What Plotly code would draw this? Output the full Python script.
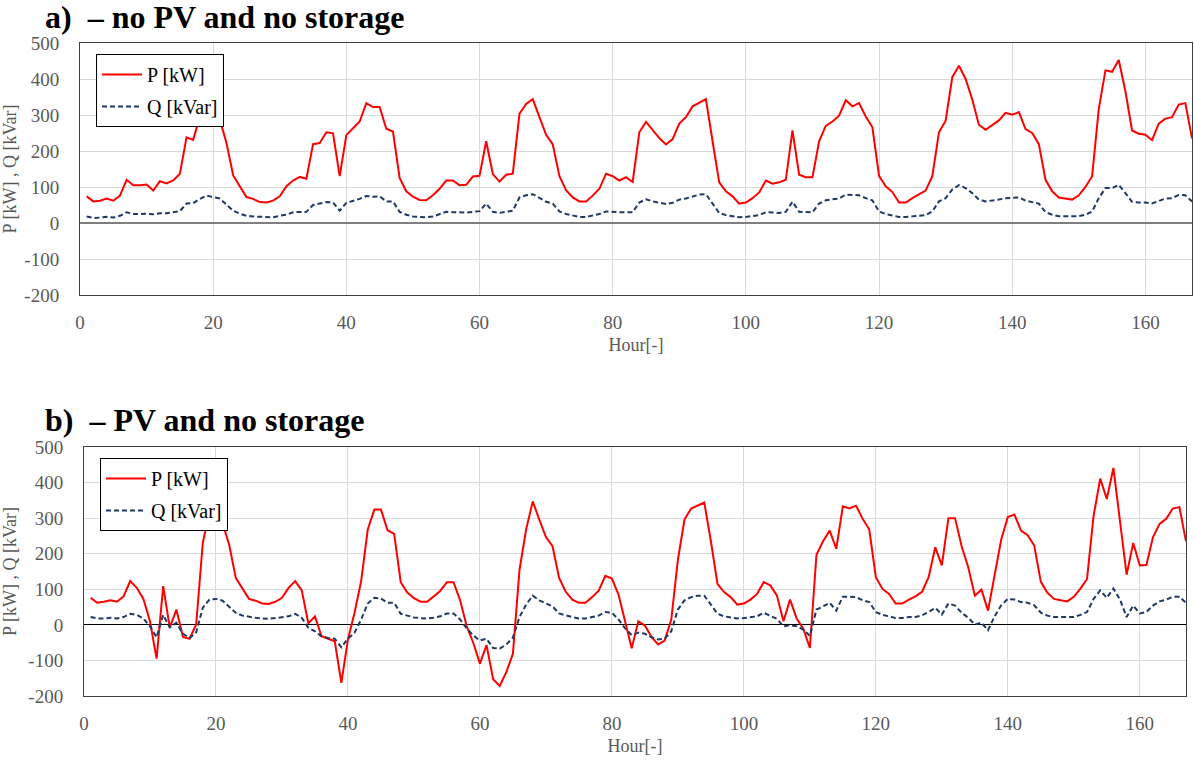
import plotly.graph_objects as go

hours = list(range(1, 168))

P_a = [74, 60, 62, 68, 62, 76, 120, 105, 105, 107,
       90, 116, 110, 118, 137, 238, 231, 296, 335, 330,
       287, 222, 132, 102, 72, 67, 58, 57, 62, 74,
       102, 118, 128, 123, 219, 222, 252, 249, 130, 244,
       264, 282, 333, 322, 322, 262, 254, 125, 88, 73,
       64, 63, 77, 95, 118, 118, 105, 106, 129, 131,
       227, 136, 115, 134, 137, 304, 331, 344, 294, 245,
       218, 130, 91, 71, 60, 60, 76, 95, 137, 130,
       118, 127, 114, 252, 281, 257, 236, 218, 233, 276,
       294, 324, 335, 344, 227, 113, 88, 74, 54, 57,
       69, 85, 118, 109, 113, 120, 257, 134, 127, 127,
       227, 270, 282, 298, 341, 324, 333, 296, 266, 131,
       102, 86, 57, 57, 69, 79, 90, 130, 252, 284,
       405, 437, 400, 343, 273, 259, 271, 285, 306, 301,
       308, 261, 250, 219, 120, 88, 71, 69, 65, 77,
       100, 130, 317, 424, 420, 453, 366, 257, 248, 245,
       230, 276, 290, 294, 329, 333, 235]

Q_a = [18, 14, 15, 17, 15, 20, 30, 25, 25, 26,
       24, 27, 27, 29, 33, 54, 55, 67, 76, 72,
       68, 51, 34, 26, 20, 18, 17, 16, 16, 20,
       23, 30, 31, 31, 50, 54, 58, 57, 34, 56,
       61, 67, 75, 73, 74, 60, 60, 31, 23, 18,
       17, 16, 18, 24, 31, 30, 29, 29, 31, 33,
       54, 31, 28, 31, 34, 71, 77, 80, 69, 59,
       54, 32, 25, 20, 17, 17, 20, 25, 32, 30,
       30, 30, 30, 57, 66, 60, 56, 53, 56, 65,
       68, 74, 79, 80, 54, 28, 22, 19, 16, 17,
       19, 22, 30, 28, 28, 31, 59, 31, 30, 30,
       54, 63, 66, 68, 79, 77, 77, 69, 63, 32,
       25, 21, 17, 17, 19, 19, 22, 32, 60, 69,
       93, 105, 97, 83, 65, 60, 62, 65, 69, 71,
       71, 62, 59, 54, 30, 23, 19, 19, 17, 19,
       23, 32, 69, 97, 97, 106, 83, 59, 57, 57,
       54, 62, 68, 69, 78, 77, 60]

P_b = [76, 62, 65, 69, 65, 80, 123, 104, 73, 10,
       -95, 109, -8, 43, -34, -39, 1, 230, 320, 330,
       286, 225, 132, 101, 73, 68, 60, 59, 65, 76,
       104, 123, 97, 4, 24, -32, -39, -46, -163, -41,
       34, 123, 268, 324, 324, 266, 256, 120, 91, 75,
       65, 65, 80, 96, 120, 120, 69, -4, -51, -109,
       -57, -153, -172, -133, -81, 155, 268, 347, 296, 247,
       221, 132, 93, 71, 62, 62, 78, 96, 138, 130,
       85, 10, -66, 10, -2, -34, -55, -44, 15, 183,
       296, 327, 336, 344, 235, 115, 92, 78, 57, 60,
       71, 87, 120, 111, 83, 10, 71, 18, -11, -65,
       197, 235, 265, 214, 333, 327, 335, 298, 268, 134,
       101, 87, 60, 60, 71, 80, 93, 134, 218, 167,
       300, 300, 221, 162, 82, 99, 40, 137, 240, 303,
       310, 265, 252, 223, 121, 90, 73, 69, 66, 79,
       102, 129, 307, 411, 354, 441, 298, 141, 230, 167,
       168, 247, 284, 298, 327, 331, 235]

Q_b = [22, 18, 18, 20, 18, 22, 31, 28, 18, -4,
       -35, 28, -7, 6, -25, -37, -21, 48, 71, 73,
       68, 52, 34, 26, 22, 20, 18, 17, 19, 22,
       24, 31, 20, -8, -18, -32, -37, -39, -63, -39,
       -22, 15, 60, 76, 74, 62, 62, 31, 26, 21,
       19, 18, 20, 24, 32, 32, 15, -10, -30, -44,
       -39, -65, -67, -55, -36, 22, 57, 82, 69, 60,
       52, 32, 26, 22, 18, 18, 22, 26, 36, 34,
       15, -10, -29, -22, -25, -35, -41, -39, -18, 43,
       69, 78, 82, 82, 57, 31, 24, 22, 18, 19,
       22, 24, 34, 26, 17, -4, -1, -4, -13, -31,
       43, 52, 62, 40, 79, 79, 78, 69, 64, 36,
       28, 24, 19, 19, 22, 22, 27, 36, 48, 29,
       60, 54, 34, 20, 1, 6, -15, 24, 55, 73,
       71, 64, 62, 55, 34, 26, 22, 22, 22, 22,
       28, 36, 73, 97, 76, 102, 71, 22, 54, 32,
       36, 54, 66, 71, 79, 79, 62]

titles = ["a)  \u2013 no PV and no storage", "b)  \u2013 PV and no storage"]
x_ticks = [0, 20, 40, 60, 80, 100, 120, 140, 160]
y_ticks = [-200, -100, 0, 100, 200, 300, 400, 500]
y_tick_labels = ["-200", "-100", "0", "100", "200", "300", "400", "500"]

W, H = 1194, 760
SERIF = "Liberation Serif, Times New Roman, Times, serif"
GRAY = "#595959"
RED = "#ff0000"
NAVY = "#1f3864"
QDASH = "5px,3px"

fig = go.Figure()

fig.add_trace(go.Scatter(x=hours, y=P_a, mode="lines", name="P [kW]",
                         line=dict(color=RED, width=2), xaxis="x", yaxis="y",
                         legend="legend", legendgroup="pa"))
fig.add_trace(go.Scatter(x=hours, y=Q_a, mode="lines", name="Q [kVar]",
                         line=dict(color=NAVY, width=2, dash=QDASH), xaxis="x", yaxis="y",
                         legend="legend", legendgroup="qa"))
fig.add_trace(go.Scatter(x=hours, y=P_b, mode="lines", name="P [kW]",
                         line=dict(color=RED, width=2), xaxis="x2", yaxis="y2",
                         legend="legend2", legendgroup="pb"))
fig.add_trace(go.Scatter(x=hours, y=Q_b, mode="lines", name="Q [kVar]",
                         line=dict(color=NAVY, width=2, dash=QDASH), xaxis="x2", yaxis="y2",
                         legend="legend2", legendgroup="qb"))

def xax(domain, anchor):
    return dict(domain=domain, anchor=anchor, range=[0, 167], tickvals=x_ticks,
                automargin=False,
                showgrid=True, gridcolor="#d9d9d9", gridwidth=1,
                showline=True, linecolor="#404040", linewidth=1, mirror=True,
                zeroline=False, ticks="", ticklabelstandoff=10,
                tickfont=dict(family=SERIF, size=19, color=GRAY),
                title=dict(text="Hour[-]", font=dict(family=SERIF, size=18, color=GRAY),
                           standoff=6))

def yax(domain, anchor, zc, zw):
    return dict(domain=domain, anchor=anchor, range=[-200, 500], tickvals=y_ticks,
                ticktext=y_tick_labels, automargin=False,
                showgrid=True, gridcolor="#d9d9d9", gridwidth=1,
                showline=True, linecolor="#404040", linewidth=1, mirror=True,
                zeroline=True, zerolinecolor=zc, zerolinewidth=zw,
                ticks="", ticklabelstandoff=16,
                tickfont=dict(family=SERIF, size=19, color=GRAY),
                title=dict(text="P [kW] , Q [kVar]", font=dict(family=SERIF, size=18, color=GRAY),
                           standoff=10))

leg_common = dict(bgcolor="white", bordercolor="black", borderwidth=1,
                  font=dict(family=SERIF, size=20, color="black"),
                  xanchor="left", yanchor="top", tracegroupgap=3,
                  itemwidth=40)

fig.update_layout(
    width=W, height=H,
    margin=dict(l=0, r=0, t=0, b=0, pad=0),
    paper_bgcolor="white", plot_bgcolor="white",
    xaxis=xax([80 / W, 1192 / W], "y"),
    yaxis=yax([1 - 295 / H, 1 - 43 / H], "x", "#7f7f7f", 2),
    xaxis2=xax([84 / W, 1186 / W], "y2"),
    yaxis2=yax([1 - 696 / H, 1 - 447 / H], "x2", "#000000", 1),
    legend=dict(x=96 / W, y=1 - 54 / H, **leg_common),
    legend2=dict(x=100 / W, y=1 - 458 / H, **leg_common),
    annotations=[
        dict(text="<b>" + titles[0] + "</b>", xref="paper", yref="paper",
             x=43 / W, y=1 - 17 / H, xanchor="left", yanchor="middle", showarrow=False,
             font=dict(family=SERIF, size=32, color="black")),
        dict(text="<b>" + titles[1] + "</b>", xref="paper", yref="paper",
             x=43 / W, y=1 - 420 / H, xanchor="left", yanchor="middle", showarrow=False,
             font=dict(family=SERIF, size=32, color="black")),
    ],
)

fig.write_html("out.html")
